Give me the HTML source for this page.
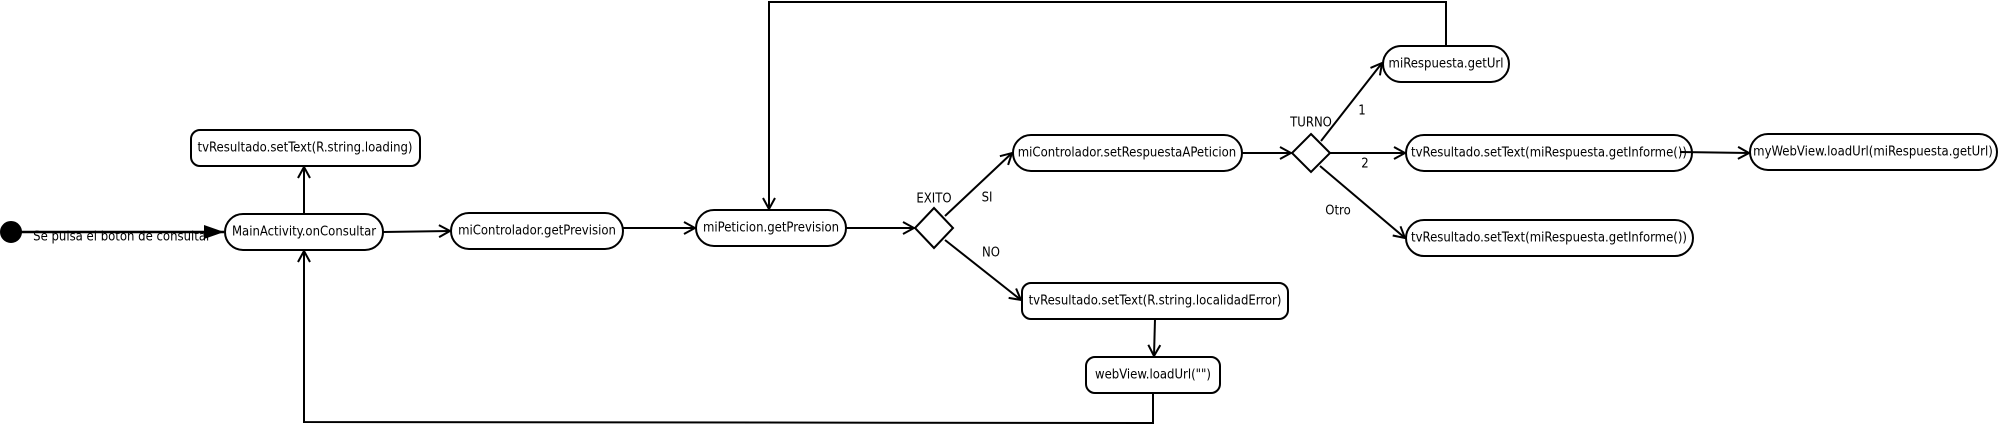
<!DOCTYPE html>
<html><head><meta charset="utf-8"><style>
html,body{margin:0;padding:0;background:#fff;width:2009px;height:426px;overflow:hidden}
svg text{font-family:"DejaVu Sans Condensed","Liberation Sans",sans-serif;font-size:13px;fill:#000}
</style></head><body>
<svg width="2009" height="426" viewBox="0 0 2009 426" xmlns="http://www.w3.org/2000/svg">
<defs>
<marker id="a" markerWidth="14" markerHeight="14" refX="12" refY="7" orient="auto" markerUnits="userSpaceOnUse">
<path d="M1,1 L12,7 L1,13" fill="none" stroke="#000" stroke-width="2"/>
</marker>
<marker id="f" markerWidth="22" markerHeight="16" refX="20" refY="8" orient="auto" markerUnits="userSpaceOnUse">
<path d="M0,1 L20,8 L0,15 Z" fill="#000"/>
</marker>
</defs>
<g fill="none" stroke="#000" stroke-width="2">
<circle cx="11" cy="232" r="10" fill="#000"/>
<line x1="21" y1="232" x2="224" y2="232" marker-end="url(#f)" stroke-width="2.5"/>
<rect x="191" y="130" width="229" height="36" rx="9"/>
<rect x="225" y="214" width="158" height="36" rx="18"/>
<rect x="451" y="213" width="172" height="36" rx="18"/>
<rect x="696" y="210" width="150" height="36" rx="18"/>
<rect x="1013" y="135" width="229" height="36" rx="18"/>
<rect x="1022" y="283" width="266" height="36" rx="9"/>
<rect x="1086" y="357" width="134" height="36" rx="9"/>
<rect x="1383" y="46" width="126" height="36" rx="18"/>
<rect x="1406" y="135" width="286" height="36" rx="18"/>
<rect x="1750" y="134" width="247" height="36" rx="18"/>
<rect x="1406" y="220" width="287" height="36" rx="18"/>
<path d="M934,208 L953,228 L934,248 L915,228 Z" fill="#fff"/>
<path d="M1311,134 L1330,153 L1311,172 L1292,153 Z" fill="#fff"/>
<line x1="304" y1="214" x2="304" y2="167" marker-end="url(#a)"/>
<line x1="383" y1="232" x2="450" y2="231" marker-end="url(#a)"/>
<line x1="623" y1="228" x2="695" y2="228" marker-end="url(#a)"/>
<line x1="846" y1="228" x2="914" y2="228" marker-end="url(#a)"/>
<line x1="945" y1="216" x2="1012" y2="153" marker-end="url(#a)"/>
<line x1="945" y1="240" x2="1021" y2="300" marker-end="url(#a)"/>
<line x1="1155" y1="319" x2="1154" y2="356" marker-end="url(#a)"/>
<polyline points="1153,393 1153,423 304,422 304,251" marker-end="url(#a)"/>
<polyline points="1446,46 1446,2 769,2 769,209" marker-end="url(#a)"/>
<line x1="1242" y1="153" x2="1291" y2="153" marker-end="url(#a)"/>
<line x1="1321" y1="141" x2="1382" y2="63" marker-end="url(#a)"/>
<line x1="1330" y1="153" x2="1405" y2="153" marker-end="url(#a)"/>
<line x1="1320" y1="166" x2="1405" y2="238" marker-end="url(#a)"/>
<line x1="1680" y1="152" x2="1749" y2="153" marker-end="url(#a)"/>
</g>
<g text-anchor="middle" dominant-baseline="central">
<text x="305" y="148">tvResultado.setText(R.string.loading)</text>
<text x="304" y="232">MainActivity.onConsultar</text>
<text x="537" y="231">miControlador.getPrevision</text>
<text x="771" y="228">miPeticion.getPrevision</text>
<text x="1127" y="153">miControlador.setRespuestaAPeticion</text>
<text x="1155" y="301">tvResultado.setText(R.string.localidadError)</text>
<text x="1153" y="375">webView.loadUrl("")</text>
<text x="1446" y="64">miRespuesta.getUrl</text>
<text x="1549" y="153">tvResultado.setText(miRespuesta.getInforme())</text>
<text x="1873" y="152">myWebView.loadUrl(miRespuesta.getUrl)</text>
<text x="1549" y="238">tvResultado.setText(miRespuesta.getInforme())</text>
<text x="934" y="199">EXITO</text>
<text x="987" y="198">SI</text>
<text x="991" y="253">NO</text>
<text x="1311" y="123">TURNO</text>
<text x="1362" y="111">1</text>
<text x="1365" y="164">2</text>
<text x="1338" y="211">Otro</text>
<text x="122" y="237">Se pulsa el boton de consultar</text>
</g>
</svg>
</body></html>
